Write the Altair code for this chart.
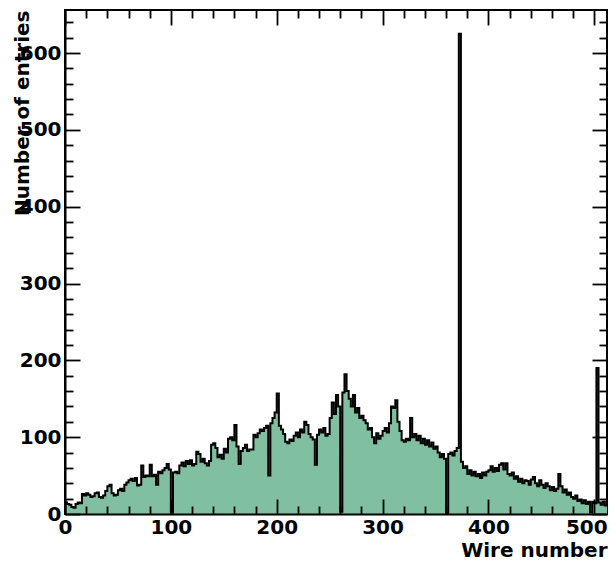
import altair as alt
import pandas as pd

# Entries per 2-wire bin
counts_000_099 = [15, 13, 12, 9, 8, 13, 15, 14, 26, 24,
                  27, 25, 22, 23, 27, 28, 22, 21, 24, 30,
                  36, 38, 27, 24, 25, 31, 33, 30, 38, 41,
                  44, 46, 43, 47, 37, 38, 63, 48, 50, 49,
                  64, 49, 51, 38, 55, 53, 57, 60, 65, 58]
counts_100_199 = [2, 54, 55, 53, 63, 67, 62, 69, 65, 70,
                  63, 65, 81, 78, 68, 72, 66, 63, 69, 90,
                  92, 86, 74, 77, 72, 85, 80, 98, 100, 96,
                  116, 88, 65, 82, 86, 90, 82, 84, 84, 103,
                  100, 105, 110, 108, 112, 115, 50, 118, 125, 132]
counts_200_299 = [157, 115, 110, 104, 94, 92, 97, 95, 102, 106,
                  100, 110, 106, 120, 116, 104, 100, 97, 64, 103,
                  110, 106, 112, 102, 104, 125, 145, 130, 155, 140,
                  3, 158, 182, 160, 150, 140, 155, 132, 138, 125,
                  128, 122, 118, 110, 112, 100, 92, 105, 98, 102]
counts_300_399 = [108, 112, 106, 118, 140, 138, 148, 120, 108, 96,
                  94, 98, 96, 125, 100, 104, 96, 102, 92, 98,
                  90, 96, 88, 93, 85, 88, 80, 74, 78, 72,
                  1, 78, 80, 76, 82, 86, 625, 68, 60, 62,
                  52, 57, 50, 55, 49, 52, 47, 54, 50, 55]
counts_400_511 = [57, 62, 55, 60, 56, 64, 66, 58, 66, 52,
                  50, 54, 46, 49, 42, 46, 40, 44, 43, 38,
                  45, 48, 40, 36, 44, 38, 34, 40, 36, 31,
                  35, 30, 33, 52, 36, 28, 32, 25, 28, 22,
                  20, 24, 17, 19, 14, 18, 13, 16, 2, 16,
                  14, 190, 15, 12, 16, 11]

counts = counts_000_099 + counts_100_199 + counts_200_299 + counts_300_399 + counts_400_511
BIN_WIDTH = 2
X_MAX = 512
Y_MAX = 656

x_major = [0, 100, 200, 300, 400, 500]
x_minor = [v for v in range(0, X_MAX + 1, 20) if v % 100 != 0]
y_major = [0, 100, 200, 300, 400, 500, 600]
y_minor = [v for v in range(0, Y_MAX + 1, 20) if v % 100 != 0]

edges = [i * BIN_WIDTH for i in range(len(counts))]
df = pd.DataFrame({"wire": edges + [X_MAX], "entries": counts + [counts[-1]]})

FILL = "#80c0a0"
FONT = "DejaVu Sans"
MAJOR = 15
MINOR = 8
PLOT_W = 542
PLOT_H = 504

xs = alt.Scale(domain=[0, X_MAX], nice=False, zero=False)
ys = alt.Scale(domain=[0, Y_MAX], nice=False, zero=False)


def tick_axis(orient, values, size):
    return alt.Axis(orient=orient, values=values, ticks=True, tickSize=size,
                    tickWidth=1.8, tickColor="black", offset=-size,
                    labels=False, domain=False, grid=False, title=None, zindex=1)


base = alt.Chart(df)

area = base.mark_area(interpolate="step-after", color=FILL, opacity=1).encode(
    x=alt.X("wire:Q", scale=xs, axis=alt.Axis(
        orient="bottom", values=x_major, ticks=False, tickSize=0,
        domain=True, domainColor="black", domainWidth=2, grid=False,
        labelFlush=False, labelOverlap=False, labelPadding=3,
        labelOffset={"condition": {"test": "datum.value == 500", "value": -8}, "value": 0},
        labelFont=FONT, labelFontSize=20, labelFontWeight="bold",
        labelColor="black", labelBaseline="top",
        title="Wire number", titleX=PLOT_W, titleY=42, titleAlign="right",
        titleBaseline="alphabetic", titleFont=FONT, titleFontSize=20,
        titleFontWeight="bold", titleColor="black", zindex=1)),
    y=alt.Y("entries:Q", scale=ys, axis=alt.Axis(
        orient="left", values=y_major, ticks=False, tickSize=0,
        domain=True, domainColor="black", domainWidth=2, grid=False,
        labelFlush=False, labelOverlap=False, labelPadding=4,
        labelFont=FONT, labelFontSize=20, labelFontWeight="bold",
        labelColor="black",
        title="Number of entries", titleX=-43, titleY=0, titleAlign="right",
        titleAngle=270, titleBaseline="middle", titleFont=FONT,
        titleFontSize=20, titleFontWeight="bold", titleColor="black", zindex=1)),
)

outline = base.mark_line(interpolate="step-after", color="black", strokeWidth=2).encode(
    x=alt.X("wire:Q", scale=xs, axis=tick_axis("bottom", x_major, MAJOR)),
    y=alt.Y("entries:Q", scale=ys, axis=tick_axis("left", y_major, MAJOR)),
)

minor_bl = base.mark_line(opacity=0).encode(
    x=alt.X("wire:Q", scale=xs, axis=tick_axis("bottom", x_minor, MINOR)),
    y=alt.Y("entries:Q", scale=ys, axis=tick_axis("left", y_minor, MINOR)),
)

major_tr = base.mark_line(opacity=0).encode(
    x=alt.X("wire:Q", scale=xs, axis=tick_axis("top", x_major, MAJOR)),
    y=alt.Y("entries:Q", scale=ys, axis=tick_axis("right", y_major, MAJOR)),
)

minor_tr = base.mark_line(opacity=0).encode(
    x=alt.X("wire:Q", scale=xs, axis=tick_axis("top", x_minor, MINOR)),
    y=alt.Y("entries:Q", scale=ys, axis=tick_axis("right", y_minor, MINOR)),
)

chart = alt.layer(area, outline, minor_bl, major_tr, minor_tr).resolve_axis(
    x="independent", y="independent"
).properties(
    width=PLOT_W, height=PLOT_H,
    autosize=alt.AutoSizeParams(type="none"),
    padding={"left": 57, "top": 2, "right": 1, "bottom": 44},
    background="white",
).configure_view(stroke="black", strokeWidth=2)

chart.save("out.html", embed_options={"renderer": "svg", "actions": False})
